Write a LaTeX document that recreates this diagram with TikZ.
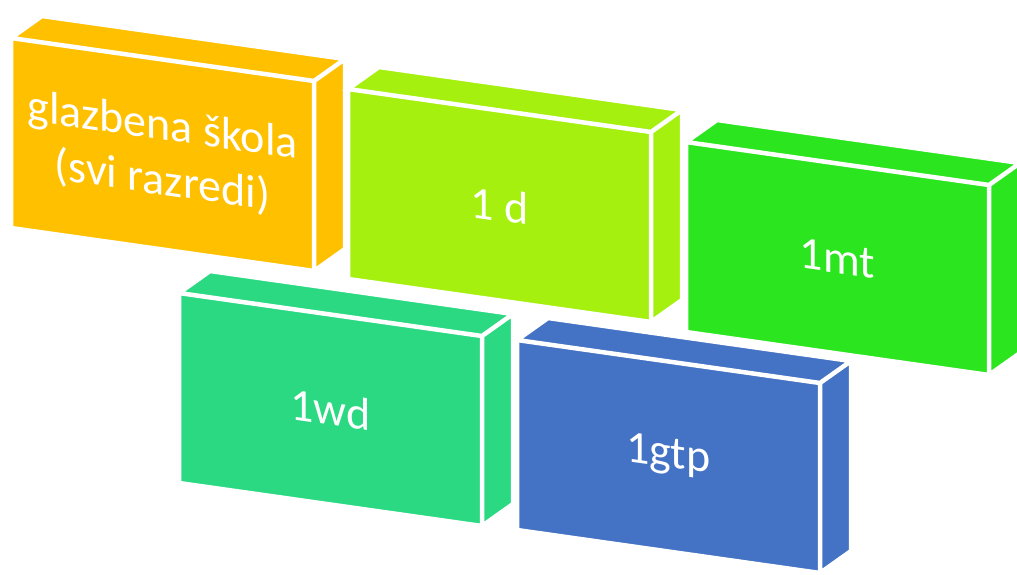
\documentclass[tikz,border=0pt]{standalone}
\usepackage{fontspec}
\setmainfont{Carlito}
\definecolor{orangebox}{RGB}{255,192,0}
\definecolor{limebox}{RGB}{165,240,15}
\definecolor{greenbox}{RGB}{43,230,30}
\definecolor{tealbox}{RGB}{42,217,130}
\definecolor{bluebox}{RGB}{68,114,196}
% #1 name, #2 x, #3 y (front top left, picture pixels), #4 colour, #5 text
\newcommand{\brick}[5]{%
\fill[#4] (#2,-#3) -- ++(31,22) -- ++(303,-43) -- ++(0,-190) -- ++(-31,-22) -- ++(-303,43) -- cycle;
\draw[face] (#2,-#3) -- ++(31,22) -- ++(303,-43) -- ++(-31,-22) -- cycle
(#2+303,-#3-43) -- ++(31,22) -- ++(0,-190) -- ++(-31,-22) -- cycle
(#2,-#3) -- ++(303,-43) -- ++(0,-190) -- ++(-303,43) -- cycle;
\node[label] (#1) at (#2+151.5,-#3-116.5) {#5};
}
\begin{document}
\begin{tikzpicture}[x=1pt,y=1pt]
\tikzset{face/.style={white,line width=4.5pt,line join=miter},
label/.style={text=white,font=\fontsize{46}{55}\selectfont,align=center,yslant=-0.142,inner sep=0pt}}
\useasboundingbox (0,0) rectangle (1017,-574);
\brick{school}{11}{38}{orangebox}{glazbena škola\\(svi razredi)}
\brick{oned}{348}{89}{limebox}{1 d}
\brick{onemt}{686}{142}{greenbox}{1mt}
\brick{onewd}{179}{293}{tealbox}{1wd}
\brick{onegtp}{517}{340}{bluebox}{1gtp}
\end{tikzpicture}
\end{document}
